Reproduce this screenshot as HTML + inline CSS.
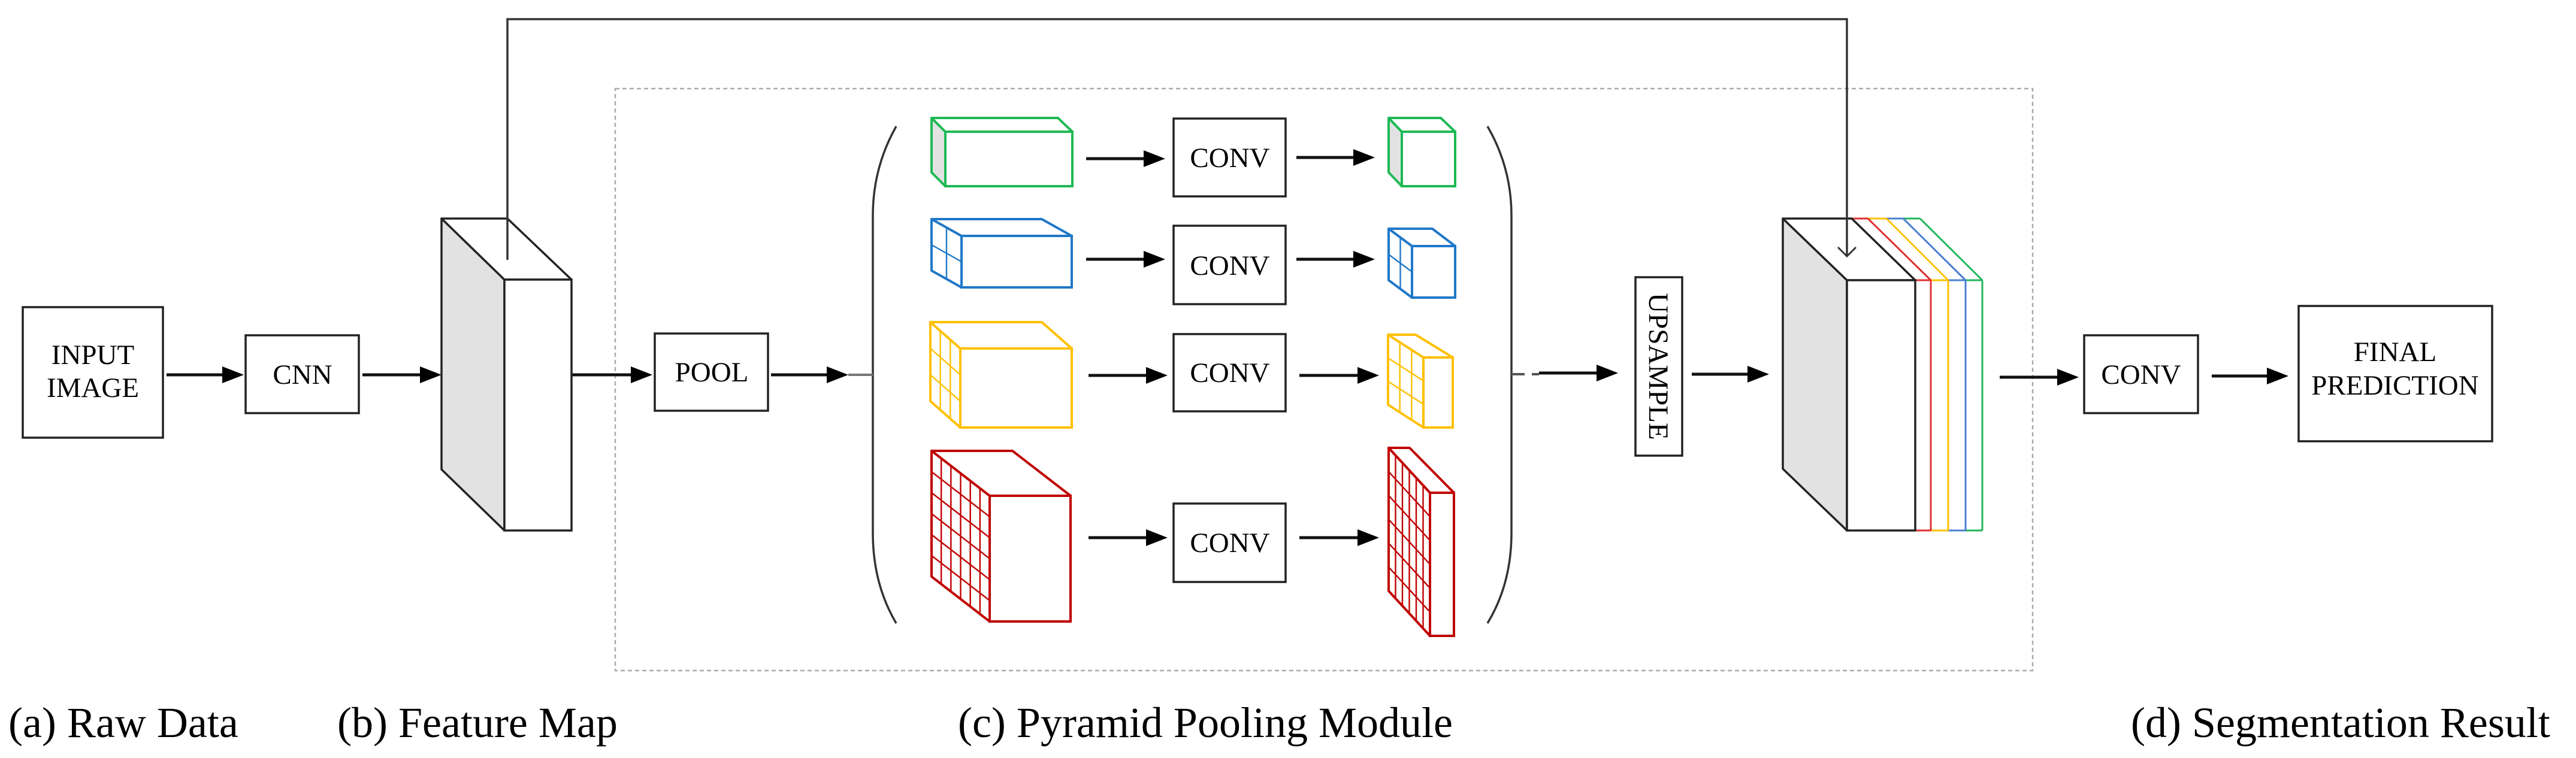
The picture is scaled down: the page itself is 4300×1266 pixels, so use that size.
<!DOCTYPE html>
<html><head><meta charset="utf-8"><style>
html,body{margin:0;padding:0;background:#fff;}
svg{display:block;}
text{font-family:"Liberation Serif",serif;fill:#000;}
</style></head><body>
<svg id="s" width="4300" height="1266" viewBox="0 0 4300 1266" xmlns="http://www.w3.org/2000/svg">
<!-- dashed module box -->
<rect x="1027" y="148" width="2366" height="972" fill="none" stroke="#aaa" stroke-width="2.5" stroke-dasharray="7 5"/>

<!-- boxes -->
<g fill="#fff" stroke="#222" stroke-width="3.5">
<rect x="38" y="513" width="234" height="218"/>
<rect x="410" y="560" width="189" height="130"/>
<rect x="1093" y="557" width="189" height="129"/>
<rect x="1959" y="198" width="187" height="130"/>
<rect x="1959" y="377" width="187" height="131"/>
<rect x="1959" y="558" width="187" height="129"/>
<rect x="1959" y="841" width="187" height="131"/>
<rect x="2730" y="463" width="78" height="298"/>
<rect x="3479" y="560" width="190" height="130"/>
<rect x="3837" y="511" width="323" height="226"/>
</g>
<g font-size="47" text-anchor="middle">
<text x="155" y="608">INPUT</text>
<text x="155" y="663">IMAGE</text>
<text x="505" y="641">CNN</text>
<text x="1188" y="637">POOL</text>
<text x="2053" y="279">CONV</text>
<text x="2053" y="459">CONV</text>
<text x="2053" y="638">CONV</text>
<text x="2053" y="922">CONV</text>
<text x="3574" y="641">CONV</text>
<text x="3998" y="603">FINAL</text>
<text x="3998" y="659">PREDICTION</text>
<text transform="translate(2769,612) rotate(90)" y="16">UPSAMPLE</text>
</g>
<g font-size="72">
<text x="14" y="1231">(a) Raw Data</text>
<text x="563" y="1231">(b) Feature Map</text>
<text x="1599" y="1231">(c) Pyramid Pooling Module</text>
<text x="3557" y="1231">(d) Segmentation Result</text>
</g>
<!-- parentheses -->
<path d="M1496,211 Q1457,280 1457,360 L1457,890 Q1457,975 1496,1041" fill="none" stroke="#333" stroke-width="3.5"/>
<path d="M2483,211 Q2523,280 2523,360 L2523,890 Q2523,975 2483,1041" fill="none" stroke="#333" stroke-width="3.5"/>
<line x1="1416" y1="626" x2="1457" y2="626" stroke="#777" stroke-width="4"/>
<line x1="2523" y1="625" x2="2569" y2="625" stroke="#555" stroke-width="4" stroke-dasharray="22 12"/>
<g id="g"></g>
<!-- skip connection (drawn on top) -->
<polyline points="847,434 847,32 3083,32 3083,426" fill="none" stroke="#333" stroke-width="3.5"/>
<polyline points="3068,413 3083,428 3098,413" fill="none" stroke="#333" stroke-width="3"/>
</svg>
<script>
var g=document.getElementById('g'),h='';
function ln(a,b,c,d,col,w){h+='<line x1="'+a+'" y1="'+b+'" x2="'+c+'" y2="'+d+'" stroke="'+col+'" stroke-width="'+w+'"/>';}
function arrow(x1,y,x2){ln(x1,y,x2-30,y,'#111',5);h+='<polygon points="'+(x2-36)+','+(y-14)+' '+x2+','+y+' '+(x2-36)+','+(y+14)+'" fill="#000"/>';}
arrow(278,626,407);arrow(605,626,737);arrow(954,626,1089);arrow(1287,626,1416);
arrow(1813,265,1945);arrow(2164,263,2295);
arrow(1813,433,1945);arrow(2164,433,2295);
arrow(1817,627,1949);arrow(2169,627,2302);
arrow(1817,898,1949);arrow(2169,898,2302);
arrow(2569,623,2701);arrow(2824,625,2953);arrow(3338,630,3470);arrow(3692,628,3820);
function cube(x0,y0,btr,fx,fy,x1,y1,col,n,fill,w){
 var gy=y1-(fy-y0);
 var P=function(a){return a.map(function(p){return p[0]+','+p[1]}).join(' ');};
 h+='<polygon points="'+P([[x0,y0],[fx,fy],[fx,y1],[x0,gy]])+'" fill="'+fill+'" stroke="'+col+'" stroke-width="'+w+'" stroke-linejoin="round"/>';
 h+='<polygon points="'+P([[x0,y0],[btr,y0],[x1,fy],[fx,fy]])+'" fill="#fff" stroke="'+col+'" stroke-width="'+w+'" stroke-linejoin="round"/>';
 h+='<rect x="'+fx+'" y="'+fy+'" width="'+(x1-fx)+'" height="'+(y1-fy)+'" fill="#fff" stroke="'+col+'" stroke-width="'+w+'"/>';
 for(var i=1;i<n;i++){var t=i/n;
  ln(x0+t*(fx-x0),y0+t*(fy-y0),x0+t*(fx-x0),gy+t*(y1-gy),col,w*0.6);
  ln(x0,y0+t*(gy-y0),fx,fy+t*(y1-fy),col,w*0.6);}
}
var G='#1db954',B='#1f78c8',Y='#ffc000',R='#c00000';
cube(1555,197,1766,1578,220,1790,311,G,1,'#e2e2e2',4);
cube(2318,197,2405,2340,220,2429,311,G,1,'#e2e2e2',4);
cube(1555,366,1739,1605,394,1789,480,B,2,'#fff',4);
cube(2318,382,2391,2357,411,2429,497,B,2,'#fff',4);
cube(1553,538,1739,1603,582,1789,714,Y,3,'#fff',4);
cube(2317,559,2363,2376,597,2425,714,Y,3,'#fff',4);
cube(1555,753,1690,1652,828,1787,1038,R,6,'#fff',4);
cube(2318,748,2353,2387,823,2427,1062,R,6,'#fff',4);
cube(737,365,847,842,467,954,886,'#222',1,'#e2e2e2',3.5);
var layers=[['#22b55a',3205,3309],['#4a7fd0',3177,3281],['#ffc000',3149,3252],['#e03030',3118,3223]];
var prevB=[3177,3149,3118,3091],prevR=[3281,3252,3223,3197];
for(var k=0;k<4;k++){var c=layers[k][0],bt=layers[k][1],r=layers[k][2];
 ln(prevB[k],365,bt,365,c,3);ln(bt,365,r,468,c,3);ln(r,468,r,886,c,3);ln(prevR[k],468,r,468,c,3);ln(prevR[k],886,r,886,c,3);}
cube(2976,365,3091,3083,468,3197,886,'#222',1,'#e2e2e2',3.5);
g.innerHTML=h;
</script>
</body></html>
